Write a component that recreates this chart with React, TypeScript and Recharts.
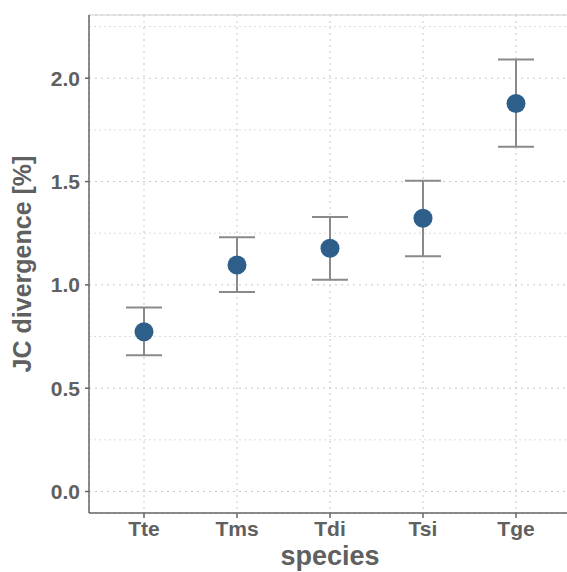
import { CartesianGrid, ComposedChart, ErrorBar, Label, ReferenceLine, Scatter, XAxis, YAxis } from "recharts";

const species = ["Tte", "Tms", "Tdi", "Tsi", "Tge"];
const means = [0.773, 1.096, 1.177, 1.322, 1.878];
const lower = [0.66, 0.965, 1.025, 1.139, 1.668];
const upper = [0.891, 1.23, 1.329, 1.504, 2.091];
const yTicks = [0, 0.5, 1.0, 1.5, 2.0];
const minorTicks = [0.25, 0.75, 1.25, 1.75, 2.25];
const yDomain = [-0.104, 2.306];

const rows = species.map((s, i) => ({
  species: s,
  mean: means[i],
  err: [means[i] - lower[i], upper[i] - means[i]],
}));

const textGray = "#606060";
const font = "'Liberation Sans', Arial, sans-serif";

const Dot = (p: any) => <circle cx={p.cx} cy={p.cy} r={9.5} fill="#2e5f8b" />;

export default function App() {
  return (
    <div style={{ position: "absolute", left: 0, top: 0, width: 567, height: 572, overflow: "hidden", background: "#fff" }}>
      <ComposedChart width={571} height={572} data={rows} margin={{ top: 15, right: 0, bottom: 0, left: 0 }} style={{ fontFamily: font }}>
        <CartesianGrid stroke="#c6c6c6" strokeDasharray="2 4" />
        {minorTicks.map((t) => (
          <ReferenceLine key={t} y={t} stroke="#dcdcdc" strokeDasharray="2 3" />
        ))}
        <ReferenceLine y={yDomain[1]} stroke="#cfcfcf" strokeWidth={1} />
        <XAxis
          dataKey="species"
          scale="point"
          padding={{ left: 55, right: 55 }}
          height={59}
          tickSize={5}
          tickMargin={3}
          stroke="#666"
          strokeWidth={1.5}
          tick={{ fill: textGray, fontSize: 21, fontWeight: "bold" }}
        >
          <Label value="species" position="insideBottom" offset={7} style={{ fill: textGray, fontSize: 27, fontWeight: "bold" }} />
        </XAxis>
        <YAxis
          type="number"
          domain={yDomain}
          ticks={yTicks}
          tickFormatter={(v: number) => v.toFixed(1)}
          width={89}
          tickSize={4}
          tickMargin={5}
          stroke="#666"
          strokeWidth={1.5}
          tick={{ fill: textGray, fontSize: 21, fontWeight: "bold" }}
        >
          <Label
            value="JC divergence [%]"
            angle={-90}
            position="insideLeft"
            offset={22}
            style={{ fill: textGray, fontSize: 25, fontWeight: "bold", textAnchor: "middle" }}
          />
        </YAxis>
        <Scatter dataKey="mean" shape={Dot} isAnimationActive={false}>
          <ErrorBar dataKey="err" direction="y" width={18} stroke="#8a8a8a" strokeWidth={2} />
        </Scatter>
      </ComposedChart>
    </div>
  );
}
